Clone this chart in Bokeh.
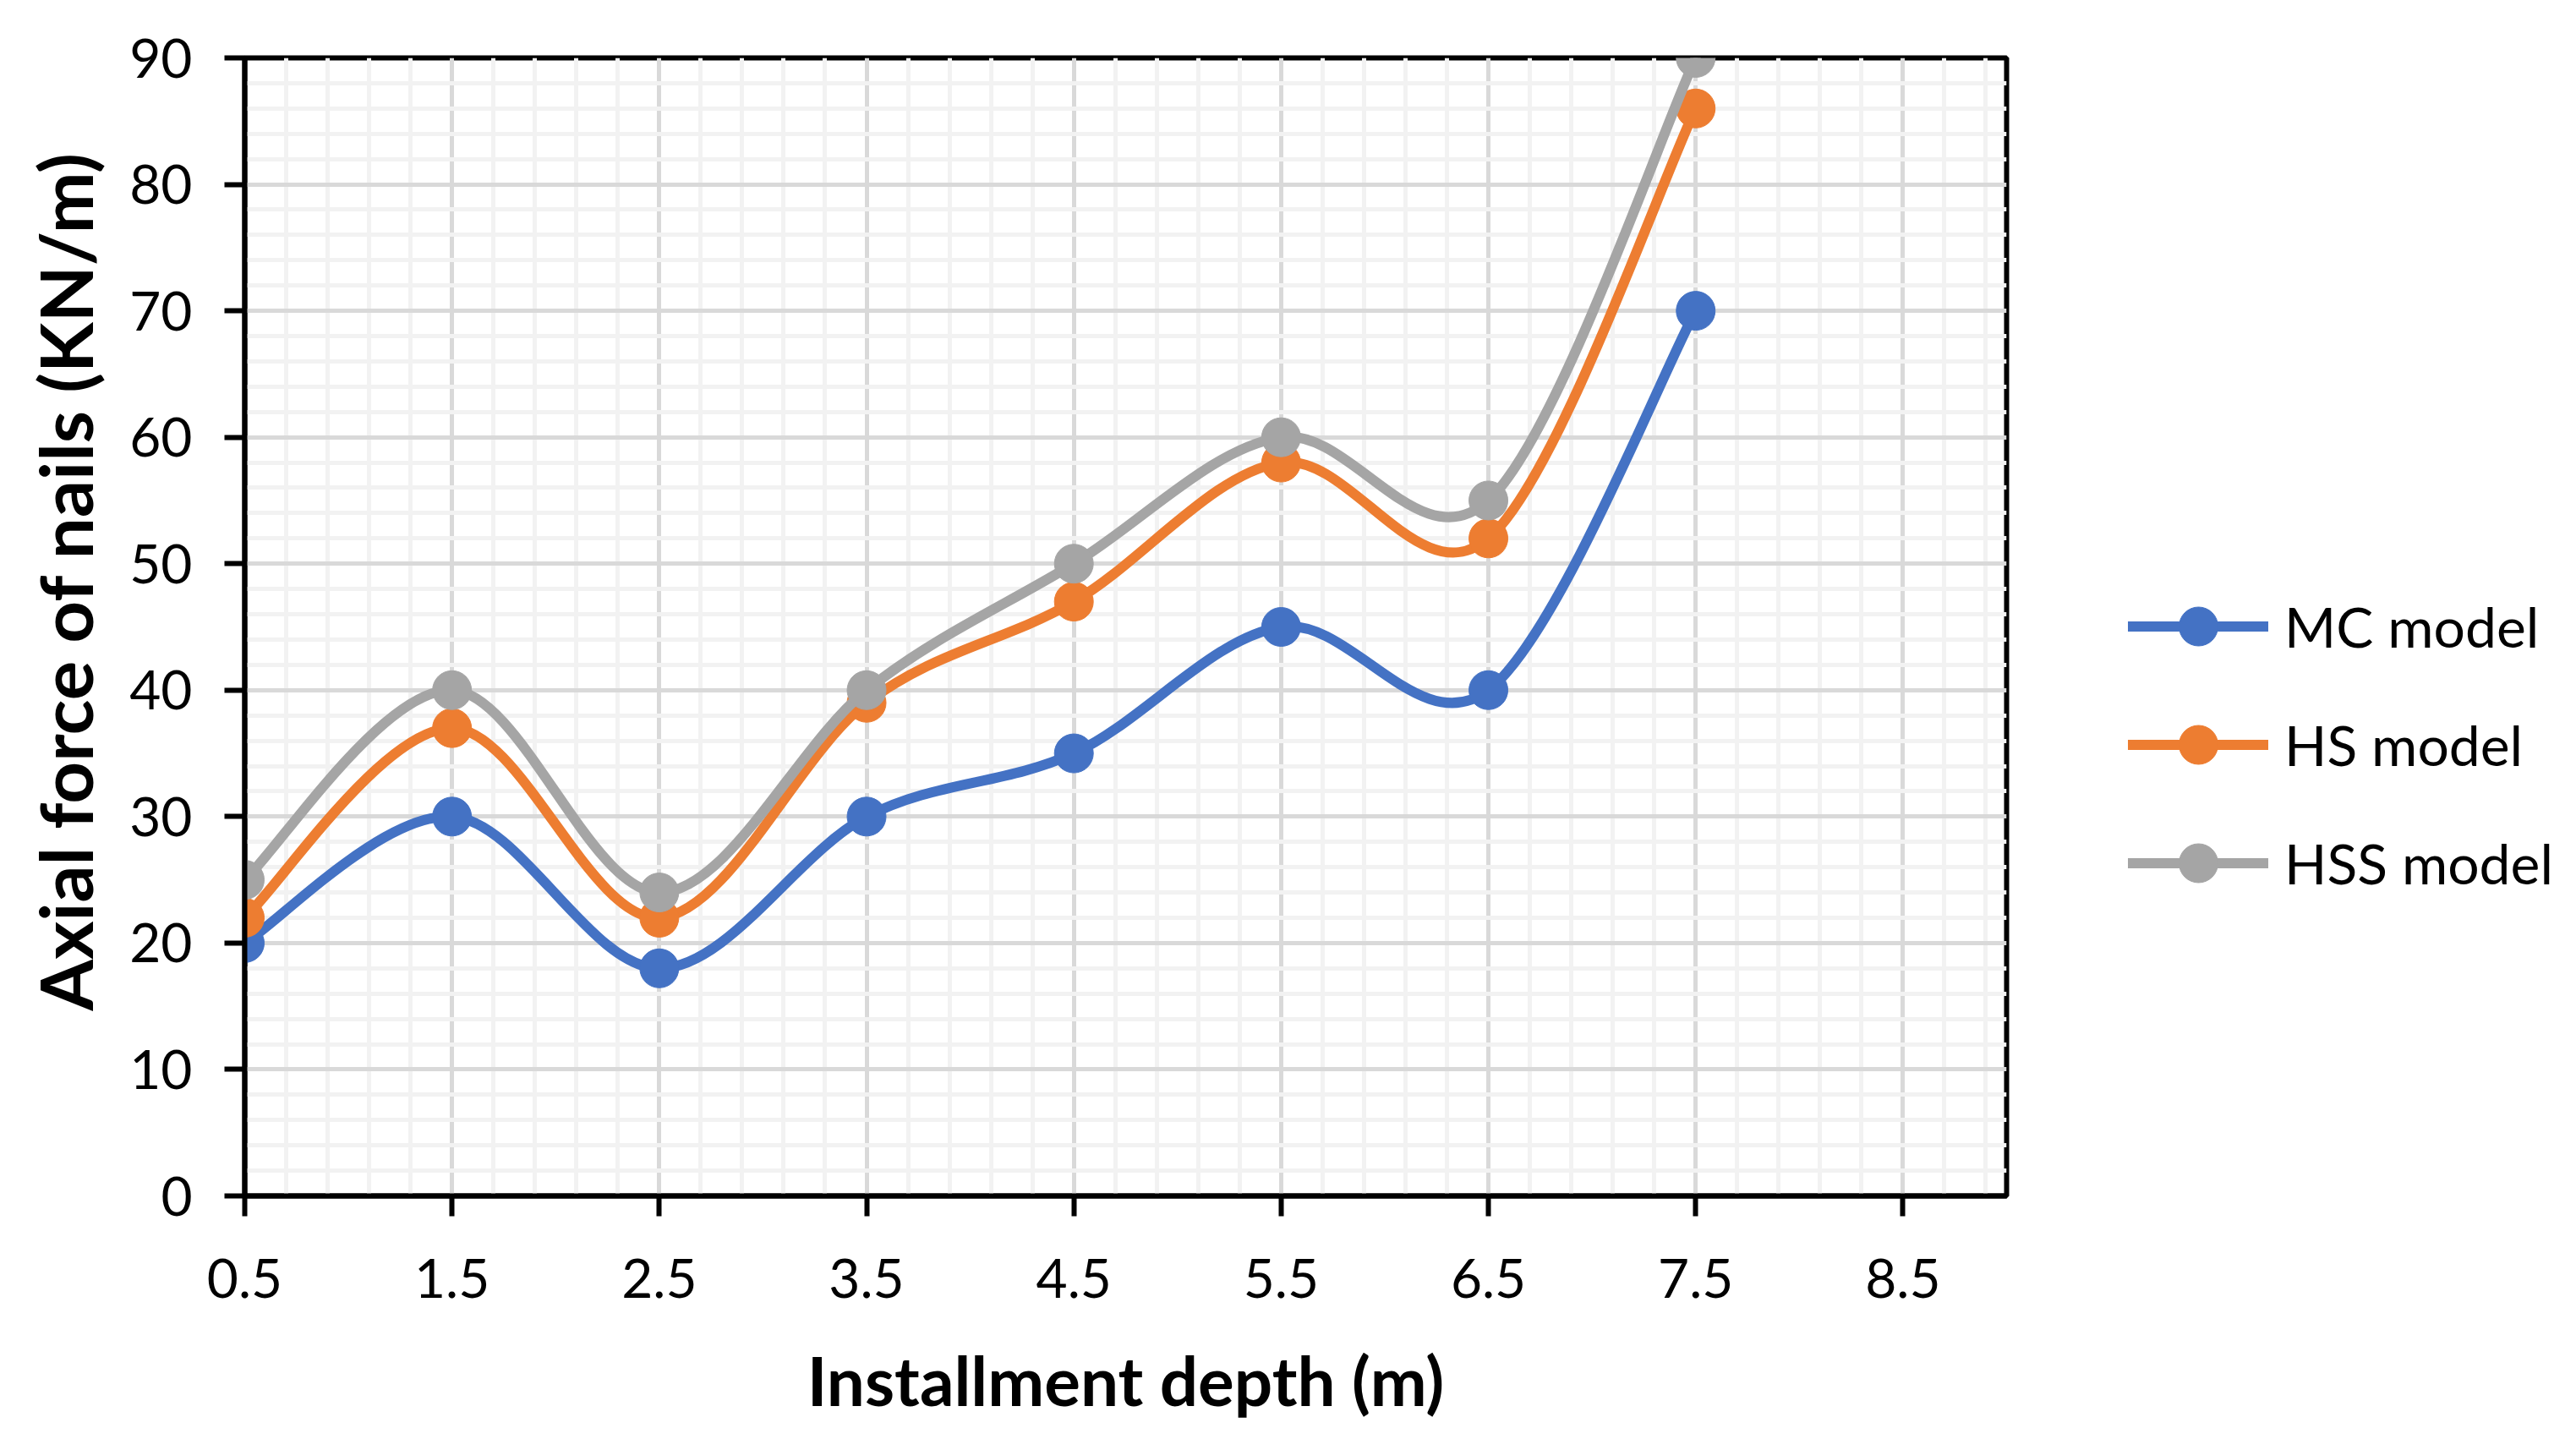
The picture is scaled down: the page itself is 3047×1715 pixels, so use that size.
from bokeh.plotting import figure
from bokeh.models import Range1d, FixedTicker, Legend, LegendItem, ColumnDataSource, Title
from bokeh.embed import file_html
from bokeh.resources import INLINE

# ---- data ----
depth = [0.5, 1.5, 2.5, 3.5, 4.5, 5.5, 6.5, 7.5]
mc_model = [20, 30, 18, 30, 35, 45, 40, 70]
hs_model = [22, 37, 22, 39, 47, 58, 52, 86]
hss_model = [25, 40, 24, 40, 50, 60, 55, 90]
series_names = ["MC model", "HS model", "HSS model"]
series_colors = ["#4472C4", "#ED7D31", "#A5A5A5"]
x_ticks = [0.5, 1.5, 2.5, 3.5, 4.5, 5.5, 6.5, 7.5, 8.5]
y_ticks = [0, 10, 20, 30, 40, 50, 60, 70, 80, 90]
x_title = "Installment depth (m)"
y_title = "Axial force of nails (KN/m)"

FONT = "Lato"

p = figure(frame_width=2084, frame_height=1346, output_backend="svg", toolbar_location=None,
           x_range=Range1d(0.5, 9.0), y_range=Range1d(0, 90),
           min_border_left=288, min_border_right=659, min_border_top=68, min_border_bottom=285)
p.background_fill_color = "white"
p.border_fill_color = "white"
p.outline_line_color = "black"
p.outline_line_width = 6

x_minor = [round(0.5 + 0.2 * i, 4) for i in range(43) if i % 5 != 0]
y_minor = [2 * i for i in range(46) if i % 5 != 0]
p.xaxis.ticker = FixedTicker(ticks=x_ticks, minor_ticks=x_minor)
p.yaxis.ticker = FixedTicker(ticks=y_ticks, minor_ticks=y_minor)

for g in (p.xgrid, p.ygrid):
    g.grid_line_color = "#d9d9d9"
    g.grid_line_width = 5
    g.minor_grid_line_color = "#f2f2f2"
    g.minor_grid_line_width = 5

for ax in (p.xaxis, p.yaxis):
    ax.axis_line_color = "black"
    ax.axis_line_width = 6
    ax.major_tick_line_color = "black"
    ax.major_tick_line_width = 6
    ax.major_tick_out = 24
    ax.major_tick_in = 0
    ax.minor_tick_out = 0
    ax.minor_tick_in = 0
    ax.major_label_text_font = FONT
    ax.major_label_text_font_size = "64px"
    ax.major_label_text_color = "black"
    ax.axis_label_text_font = FONT
    ax.axis_label_text_font_style = "bold"
    ax.axis_label_text_color = "black"

p.xaxis.axis_label = x_title
p.xaxis.axis_label_text_font_size = "80px"
p.xaxis.major_label_standoff = 50
p.yaxis.major_label_standoff = 38
p.xaxis.axis_label_standoff = 46

# y-axis title placed as a side title so it can sit slightly above the frame centre
ytitle = Title(text=y_title, align="left", offset=219, standoff=43,
               text_font=FONT, text_font_style="bold", text_font_size="87px",
               text_color="black")
p.add_layout(ytitle, "left")


def smooth_controls(xs, ys):
    n = len(xs)
    x0, y0, x1, y1, cx0, cy0, cx1, cy1 = ([] for _ in range(8))
    for i in range(n - 1):
        ip = i - 1 if i > 0 else i
        inx = i + 2 if i + 2 < n else i + 1
        x0.append(xs[i]); y0.append(ys[i])
        x1.append(xs[i + 1]); y1.append(ys[i + 1])
        cx0.append(xs[i] + (xs[i + 1] - xs[ip]) / 6.0)
        cy0.append(ys[i] + (ys[i + 1] - ys[ip]) / 6.0)
        cx1.append(xs[i + 1] - (xs[inx] - xs[i]) / 6.0)
        cy1.append(ys[i + 1] - (ys[inx] - ys[i]) / 6.0)
    return dict(x0=x0, y0=y0, x1=x1, y1=y1, cx0=cx0, cy0=cy0, cx1=cx1, cy1=cy1)


items = []
for name, vals, col in zip(series_names, [mc_model, hs_model, hss_model], series_colors):
    src = ColumnDataSource(smooth_controls(depth, vals))
    bez = p.bezier(x0="x0", y0="y0", x1="x1", y1="y1", cx0="cx0", cy0="cy0",
                   cx1="cx1", cy1="cy1", source=src, line_color=col, line_width=12,
                   line_cap="round")
    sc = p.scatter(depth, vals, marker="circle", size=46, fill_color=col, line_color=col)
    items.append(LegendItem(label=name, renderers=[bez, sc]))

legend = Legend(items=items, location=(144, 336), orientation="vertical",
                glyph_width=166, glyph_height=115, label_height=115, spacing=25,
                label_standoff=19, padding=0, margin=72,
                border_line_color=None, background_fill_alpha=0,
                label_text_font=FONT, label_text_font_size="66px", label_text_color="black",
                click_policy="none")
p.add_layout(legend, "right")

open("out.html", "w").write(file_html(p, INLINE))
